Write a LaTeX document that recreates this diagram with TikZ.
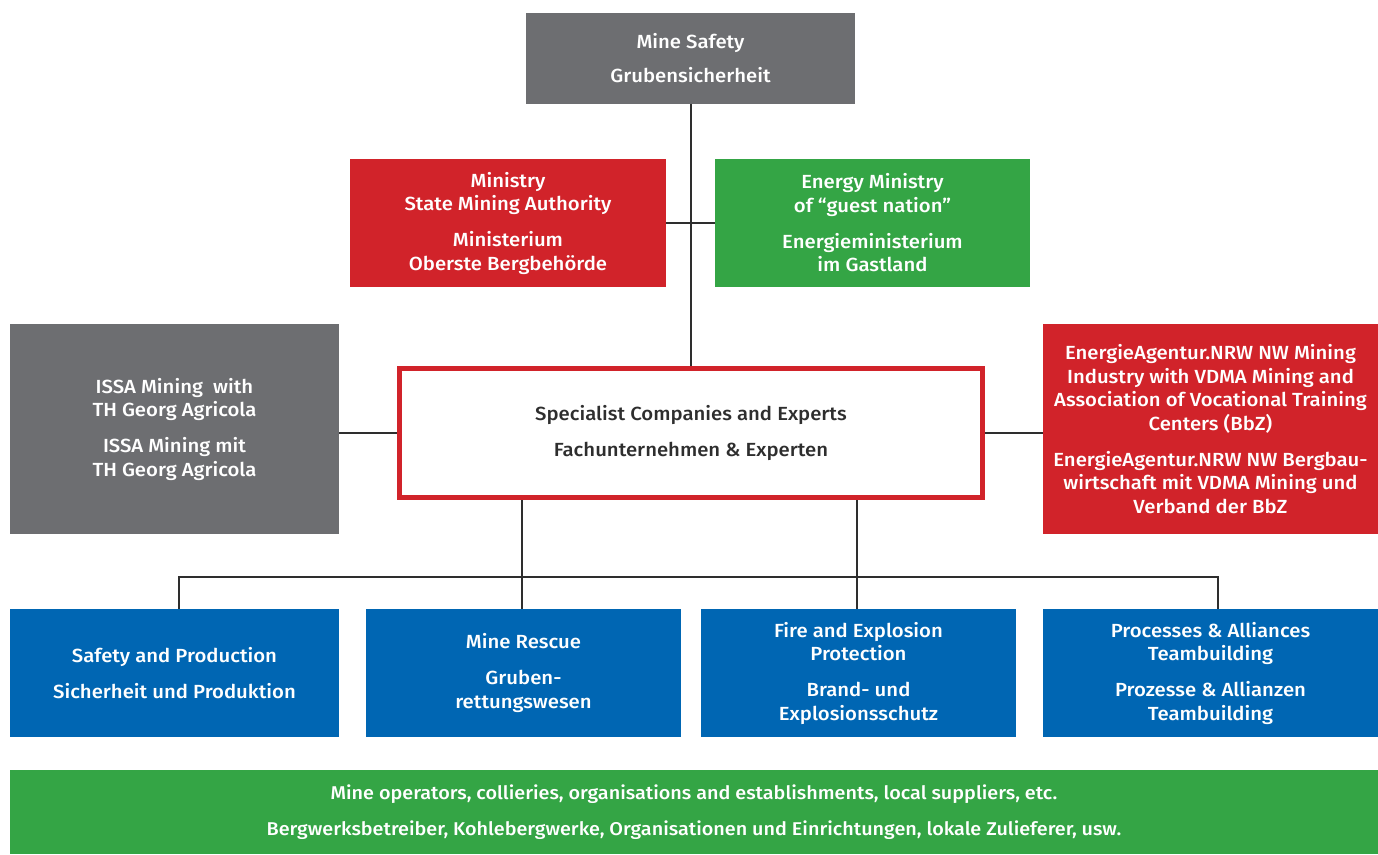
\documentclass[tikz,border=0pt]{standalone}
\usepackage{fontspec}
\IfFontExistsTF{Fira Sans Medium}
  {\setmainfont{Fira Sans Medium}[FakeStretch=1.07]}
  {\IfFontExistsTF{Fira Sans SemiBold}
     {\setmainfont{Fira Sans SemiBold}[FakeStretch=1.07]}
     {\setmainfont{Fira Sans}[FakeBold=1.2,FakeStretch=1.07]}}
\definecolor{boxgray}{HTML}{6D6E71}
\definecolor{boxred}{HTML}{D1232A}
\definecolor{boxgreen}{HTML}{34A545}
\definecolor{boxblue}{HTML}{0066B3}
\definecolor{linedark}{HTML}{2E2E2E}
\begin{document}
\begin{tikzpicture}[x=1pt,y=-1pt,
  box/.style={inner sep=0pt, align=center, text=white,
    font=\fontsize{19}{23.5}\selectfont},
  graybox/.style={box, fill=boxgray},
  redbox/.style={box, fill=boxred},
  greenbox/.style={box, fill=boxgreen},
  bluebox/.style={box, fill=boxblue},
  hub/.style={box, fill=white, draw=boxred, line width=5pt, text=linedark},
  wire/.style={draw=linedark, line width=2pt}]
\useasboundingbox (0,0) rectangle (1378,854);

% top: mine safety
\node[graybox, minimum width=329pt, minimum height=91pt] (ms) at (690.5,58)
  {Mine Safety\\[11pt]Grubensicherheit};

% ministries
\node[redbox, minimum width=316pt, minimum height=128pt] (min) at (508,223)
  {Ministry\\State Mining Authority\\[12.5pt]Ministerium\\Oberste Bergbehörde};
\node[greenbox, minimum width=315pt, minimum height=128pt] (eng) at (872.5,223)
  {Energy Ministry\\of “guest nation”\\[12.5pt]Energieministerium\\im Gastland};

% middle row
\node[graybox, minimum width=329pt, minimum height=210pt] (issa) at (174.5,429)
  {ISSA Mining\ \ with\\TH Georg Agricola\\[12.5pt]ISSA Mining mit\\TH Georg Agricola};
\node[hub, minimum width=583pt, minimum height=129pt] (hub) at (691,433)
  {Specialist Companies and Experts\\[12.5pt]Fachunternehmen \& Experten};
\node[redbox, minimum width=335pt, minimum height=210pt] (nrw) at (1210.5,429)
  {EnergieAgentur.NRW NW Mining\\Industry with VDMA Mining and\\Association of Vocational Training\\Centers (BbZ)\\[12.5pt]EnergieAgentur.NRW NW Bergbau-\\wirtschaft mit VDMA Mining und\\Verband der BbZ};

% fields of work
\node[bluebox, minimum width=329pt, minimum height=128pt] (b1) at (174.5,673)
  {Safety and Production\\[12.5pt]Sicherheit und Produktion};
\node[bluebox, minimum width=315pt, minimum height=128pt] (b2) at (523.5,673)
  {Mine Rescue\\[12.5pt]Gruben-\\rettungswesen};
\node[bluebox, minimum width=315pt, minimum height=128pt] (b3) at (858.5,673)
  {Fire and Explosion\\Protection\\[12.5pt]Brand- und\\Explosionsschutz};
\node[bluebox, minimum width=335pt, minimum height=128pt] (b4) at (1210.5,673)
  {Processes \& Alliances\\Teambuilding\\[12.5pt]Prozesse \& Allianzen\\Teambuilding};

% base
\node[greenbox, minimum width=1368pt, minimum height=84pt,
  font=\fontsize{18.5}{23.5}\selectfont] (base) at (694,812)
  {Mine operators, collieries, organisations and establishments, local suppliers, etc.\\[12.5pt]Bergwerksbetreiber, Kohlebergwerke, Organisationen und Einrichtungen, lokale Zulieferer, usw.};

% connectors
\coordinate (bus) at (0,577);
\coordinate (d1) at ([xshift=4.5pt]b1.north);
\coordinate (d2) at ([xshift=-1.5pt]b2.north);
\coordinate (d3) at ([xshift=-1.5pt]b3.north);
\coordinate (d4) at ([xshift=7.5pt]b4.north);
\draw[wire] (ms.south) -- (ms.south |- hub.north);
\draw[wire] (min.east) -- (eng.west);
\draw[wire] (issa.east |- hub.west) -- (hub.west);
\draw[wire] (hub.east) -- (hub.east -| nrw.west);
\draw[wire] (d2 |- hub.south) -- (d2);
\draw[wire] (d3 |- hub.south) -- (d3);
\draw[wire] (d1) -- (d1 |- bus) -- (d4 |- bus) -- (d4);
\end{tikzpicture}
\end{document}
